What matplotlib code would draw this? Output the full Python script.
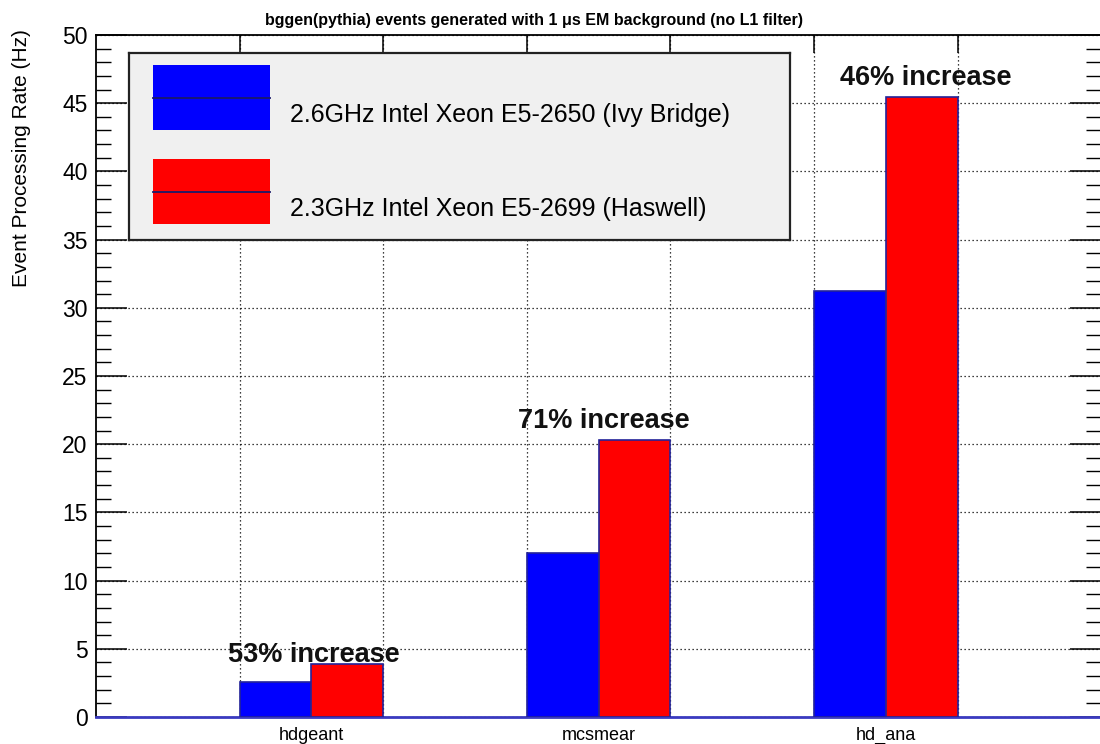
import numpy as np
import matplotlib.pyplot as plt
from matplotlib.patches import Rectangle
from matplotlib.ticker import MultipleLocator, FixedLocator

plt.rcParams['font.family'] = ['Liberation Sans', 'DejaVu Sans']

programs = ['hdgeant', 'mcsmear', 'hd_ana']
ivy_bridge = [2.57, 12.02, 31.25]
haswell = [3.92, 20.33, 45.45]
increase = ['53% increase', '71% increase', '46% increase']
series_names = ['2.6GHz Intel Xeon E5-2650 (Ivy Bridge)',
                '2.3GHz Intel Xeon E5-2699 (Haswell)']

# where the annotations sit (layout only)
note_dx = [0.01, 0.02, 0.14]
note_y = [4.05, 21.2, 46.3]

W, H = 1100, 744
fig = plt.figure(figsize=(W / 100, H / 100), dpi=100)
ax = fig.add_axes([96 / W, 1 - 717 / H, 1 - 96 / W + 0.001, (717 - 35) / H])

x0 = np.arange(len(programs)) + 0.5
edge = '#23239a'
ax.bar(x0, ivy_bridge, width=0.25, align='edge', color='#0000ff',
       edgecolor=edge, linewidth=1.2, zorder=3)
ax.bar(x0 + 0.25, haswell, width=0.25, align='edge', color='#ff0000',
       edgecolor=edge, linewidth=1.2, zorder=3)

for i, txt in enumerate(increase):
    ax.text(x0[i] + 0.25 + note_dx[i], note_y[i], txt, ha='center', va='baseline',
            fontsize=19.5, fontweight='bold', color='#111111', zorder=5)

ax.set_xlim(0, 3.5)
ax.set_ylim(0, 50)

# x: labels at group centres, ticks + grid every 0.5 on top
ax.xaxis.set_major_locator(FixedLocator(x0 + 0.25))
ax.set_xticklabels(programs, fontsize=13)
ax.xaxis.set_minor_locator(FixedLocator(np.arange(0.5, 3.01, 0.5)))
ax.tick_params(axis='x', which='major', length=0, pad=7)
ax.tick_params(axis='x', which='minor', direction='in', top=True, bottom=False,
               length=13, width=1.1, color='black')

# y: majors every 5, minors every 1, both sides
ax.yaxis.set_major_locator(MultipleLocator(5))
ax.yaxis.set_minor_locator(MultipleLocator(1))
ax.tick_params(axis='y', which='major', direction='in', left=True, right=True,
               length=22, width=1.1, labelsize=16.5, pad=6)
ax.tick_params(axis='y', which='minor', direction='in', left=True, right=True,
               length=11, width=1.0)

ax.grid(axis='y', which='major', color='black', linestyle=(0, (1, 2.2)),
        linewidth=0.9, zorder=1)
ax.grid(axis='x', which='minor', color='black', linestyle=(0, (1, 2.2)),
        linewidth=0.9, zorder=1)
ax.set_axisbelow(True)

for s in ['left', 'top']:
    ax.spines[s].set_linewidth(1.3)
ax.spines['right'].set_visible(False)
ax.spines['bottom'].set_color('#3a3ac0')
ax.spines['bottom'].set_linewidth(2)

fig.text(22 / W, 1 - 29 / H, 'Event Processing Rate (Hz)', rotation=90,
         ha='center', va='top', fontsize=15)
fig.text(534 / W, 1 - 21 / H,
         'bggen(pythia) events generated with 1 \u03bcs EM background (no L1 filter)',
         ha='center', va='center', fontsize=11.5, fontweight='bold')

# legend box drawn in its own pixel-coordinate axes
lx0, ly0, lx1, ly1 = 129, 53, 790, 240
lg = fig.add_axes([lx0 / W, 1 - ly1 / H, (lx1 - lx0) / W, (ly1 - ly0) / H])
lg.set_facecolor('#f0f0f0')
lg.set_xlim(0, lx1 - lx0)
lg.set_ylim(ly1 - ly0, 0)
lg.set_xticks([])
lg.set_yticks([])
for s in lg.spines.values():
    s.set_linewidth(1.6)
    s.set_color('#222222')
for k, (name, col) in enumerate(zip(series_names, ['#0000ff', '#ff0000'])):
    top = 12 + k * 94
    lg.add_patch(Rectangle((24, top), 117, 65, facecolor=col, edgecolor='none'))
    lg.plot([24, 141], [top + 33, top + 33], color='#1a1a6a', linewidth=1.3)
    lg.text(161, top + 50, name, ha='left', va='center', fontsize=18)

fig.savefig('out.png', dpi=100)
